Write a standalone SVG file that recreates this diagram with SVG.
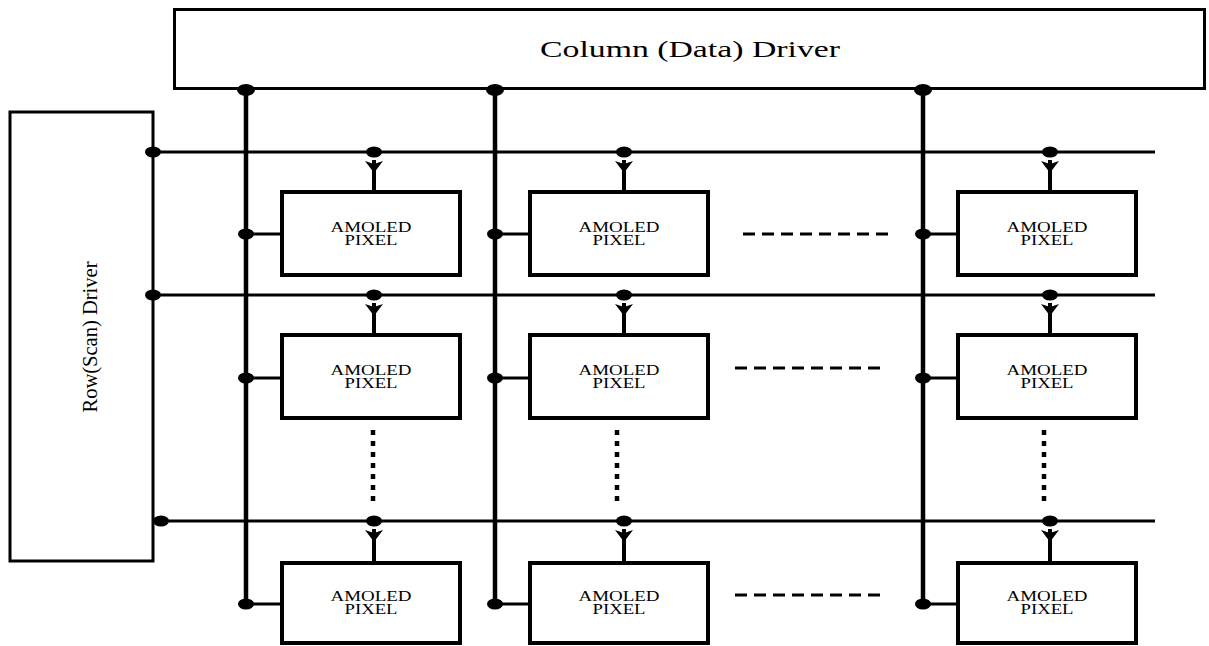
<svg xmlns="http://www.w3.org/2000/svg" width="1209" height="646" viewBox="0 0 1209 646">
  <style>
    .box { fill: #fff; stroke: #000; }
    .drv { stroke-width: 3; }
    .pix { stroke-width: 4; }
    .bus { stroke: #000; stroke-width: 4.5; fill: none; }
    .row { stroke: #000; stroke-width: 3; fill: none; }
    .stub { stroke: #000; stroke-width: 3; fill: none; }
    .stem { stroke: #000; stroke-width: 4; fill: none; }
    .dash { stroke: #000; stroke-width: 3; stroke-dasharray: 12 7; fill: none; }
    .dots { stroke: #000; stroke-width: 4.5; stroke-dasharray: 5 6; fill: none; }
    .dot { fill: #000; }
    .lbl { font-family: "Liberation Serif", "DejaVu Serif", serif; fill: #000; text-anchor: middle; }
    .pl { font-size: 14px; }
  </style>
  <defs>
    <!-- downward arrowhead sitting just under a row junction -->
    <path id="ah" d="M -9,0 L 0,3 L 9,0 L 2.2,9 L -2.2,9 Z" fill="#000"/>
    <ellipse id="jd" rx="8" ry="5.5" fill="#000"/>
    <ellipse id="jb" rx="9" ry="6" fill="#000"/>
  </defs>

  <!-- drivers -->
  <g id="column-driver">
    <rect class="box drv" x="174.5" y="9.5" width="1030" height="79"/>
    <text class="lbl" x="690" y="57" font-size="23" textLength="300" lengthAdjust="spacingAndGlyphs">Column (Data) Driver</text>
  </g>
  <g id="row-driver">
    <rect class="box drv" x="10" y="112" width="143" height="449" stroke-width="3.5"/>
    <text class="lbl" transform="translate(97,337) rotate(-90)" font-size="22" textLength="151" lengthAdjust="spacingAndGlyphs">Row(Scan) Driver</text>
  </g>

  <!-- connectors -->
  <g id="connectors">
    <!-- data buses -->
    <path class="bus" d="M246,89 V605 M495,89 V605 M923,89 V605"/>
    <use href="#jb" x="246" y="90"/>
    <use href="#jb" x="495" y="90"/>
    <use href="#jb" x="923" y="90"/>
    <!-- scan lines -->
    <path class="row" d="M153,152 H1155 M153,295 H1155 M153,521 H1155"/>
    <use href="#jd" x="153" y="152"/>
    <use href="#jd" x="153" y="295"/>
    <use href="#jd" x="161" y="521"/>

    <!-- scan line taps into pixels -->
    <use href="#jd" x="374" y="152"/><use href="#ah" x="374" y="161"/><path class="stem" d="M374,160 V192"/>
    <use href="#jd" x="624" y="152"/><use href="#ah" x="624" y="161"/><path class="stem" d="M624,160 V192"/>
    <use href="#jd" x="1050" y="152"/><use href="#ah" x="1050" y="161"/><path class="stem" d="M1050,160 V192"/>

    <use href="#jd" x="374" y="295"/><use href="#ah" x="374" y="304"/><path class="stem" d="M374,303 V335"/>
    <use href="#jd" x="624" y="295"/><use href="#ah" x="624" y="304"/><path class="stem" d="M624,303 V335"/>
    <use href="#jd" x="1050" y="295"/><use href="#ah" x="1050" y="304"/><path class="stem" d="M1050,303 V335"/>

    <use href="#jd" x="374" y="521"/><use href="#ah" x="374" y="530"/><path class="stem" d="M374,529 V563"/>
    <use href="#jd" x="624" y="521"/><use href="#ah" x="624" y="530"/><path class="stem" d="M624,529 V563"/>
    <use href="#jd" x="1050" y="521"/><use href="#ah" x="1050" y="530"/><path class="stem" d="M1050,529 V563"/>

    <!-- data bus taps into pixels -->
    <path class="stub" d="M246,234 H282 M495,234 H530 M923,234 H958"/>
    <path class="stub" d="M246,378 H282 M495,378 H530 M923,378 H958"/>
    <path class="stub" d="M246,604 H282 M495,604 H530 M923,604 H958"/>
    <use href="#jd" x="246" y="234"/><use href="#jd" x="495" y="234"/><use href="#jd" x="923" y="234"/>
    <use href="#jd" x="246" y="378"/><use href="#jd" x="495" y="378"/><use href="#jd" x="923" y="378"/>
    <use href="#jd" x="246" y="604"/><use href="#jd" x="495" y="604"/><use href="#jd" x="923" y="604"/>

    <!-- continuation marks -->
    <path class="dash" d="M743,234 H888"/>
    <path class="dash" d="M735,368 H880"/>
    <path class="dash" d="M735,595 H880"/>
    <path class="dots" d="M373,430 V501"/>
    <path class="dots" d="M617,430 V501"/>
    <path class="dots" d="M1044,430 V501"/>
  </g>

  <!-- pixel array -->
  <g id="pixel-r1-c1"><rect class="box pix" x="282" y="192" width="178" height="83"/><text class="lbl pl" x="371" y="232" textLength="81" lengthAdjust="spacingAndGlyphs">AMOLED</text><text class="lbl pl" x="371" y="245" textLength="53" lengthAdjust="spacingAndGlyphs">PIXEL</text></g>
  <g id="pixel-r1-c2"><rect class="box pix" x="530" y="192" width="178" height="83"/><text class="lbl pl" x="619" y="232" textLength="81" lengthAdjust="spacingAndGlyphs">AMOLED</text><text class="lbl pl" x="619" y="245" textLength="53" lengthAdjust="spacingAndGlyphs">PIXEL</text></g>
  <g id="pixel-r1-c3"><rect class="box pix" x="958" y="192" width="178" height="83"/><text class="lbl pl" x="1047" y="232" textLength="81" lengthAdjust="spacingAndGlyphs">AMOLED</text><text class="lbl pl" x="1047" y="245" textLength="53" lengthAdjust="spacingAndGlyphs">PIXEL</text></g>

  <g id="pixel-r2-c1"><rect class="box pix" x="282" y="335" width="178" height="83"/><text class="lbl pl" x="371" y="375" textLength="81" lengthAdjust="spacingAndGlyphs">AMOLED</text><text class="lbl pl" x="371" y="388" textLength="53" lengthAdjust="spacingAndGlyphs">PIXEL</text></g>
  <g id="pixel-r2-c2"><rect class="box pix" x="530" y="335" width="178" height="83"/><text class="lbl pl" x="619" y="375" textLength="81" lengthAdjust="spacingAndGlyphs">AMOLED</text><text class="lbl pl" x="619" y="388" textLength="53" lengthAdjust="spacingAndGlyphs">PIXEL</text></g>
  <g id="pixel-r2-c3"><rect class="box pix" x="958" y="335" width="178" height="83"/><text class="lbl pl" x="1047" y="375" textLength="81" lengthAdjust="spacingAndGlyphs">AMOLED</text><text class="lbl pl" x="1047" y="388" textLength="53" lengthAdjust="spacingAndGlyphs">PIXEL</text></g>

  <g id="pixel-r3-c1"><rect class="box pix" x="282" y="563" width="178" height="80"/><text class="lbl pl" x="371" y="601" textLength="81" lengthAdjust="spacingAndGlyphs">AMOLED</text><text class="lbl pl" x="371" y="614" textLength="53" lengthAdjust="spacingAndGlyphs">PIXEL</text></g>
  <g id="pixel-r3-c2"><rect class="box pix" x="530" y="563" width="178" height="80"/><text class="lbl pl" x="619" y="601" textLength="81" lengthAdjust="spacingAndGlyphs">AMOLED</text><text class="lbl pl" x="619" y="614" textLength="53" lengthAdjust="spacingAndGlyphs">PIXEL</text></g>
  <g id="pixel-r3-c3"><rect class="box pix" x="958" y="563" width="178" height="80"/><text class="lbl pl" x="1047" y="601" textLength="81" lengthAdjust="spacingAndGlyphs">AMOLED</text><text class="lbl pl" x="1047" y="614" textLength="53" lengthAdjust="spacingAndGlyphs">PIXEL</text></g>
</svg>
